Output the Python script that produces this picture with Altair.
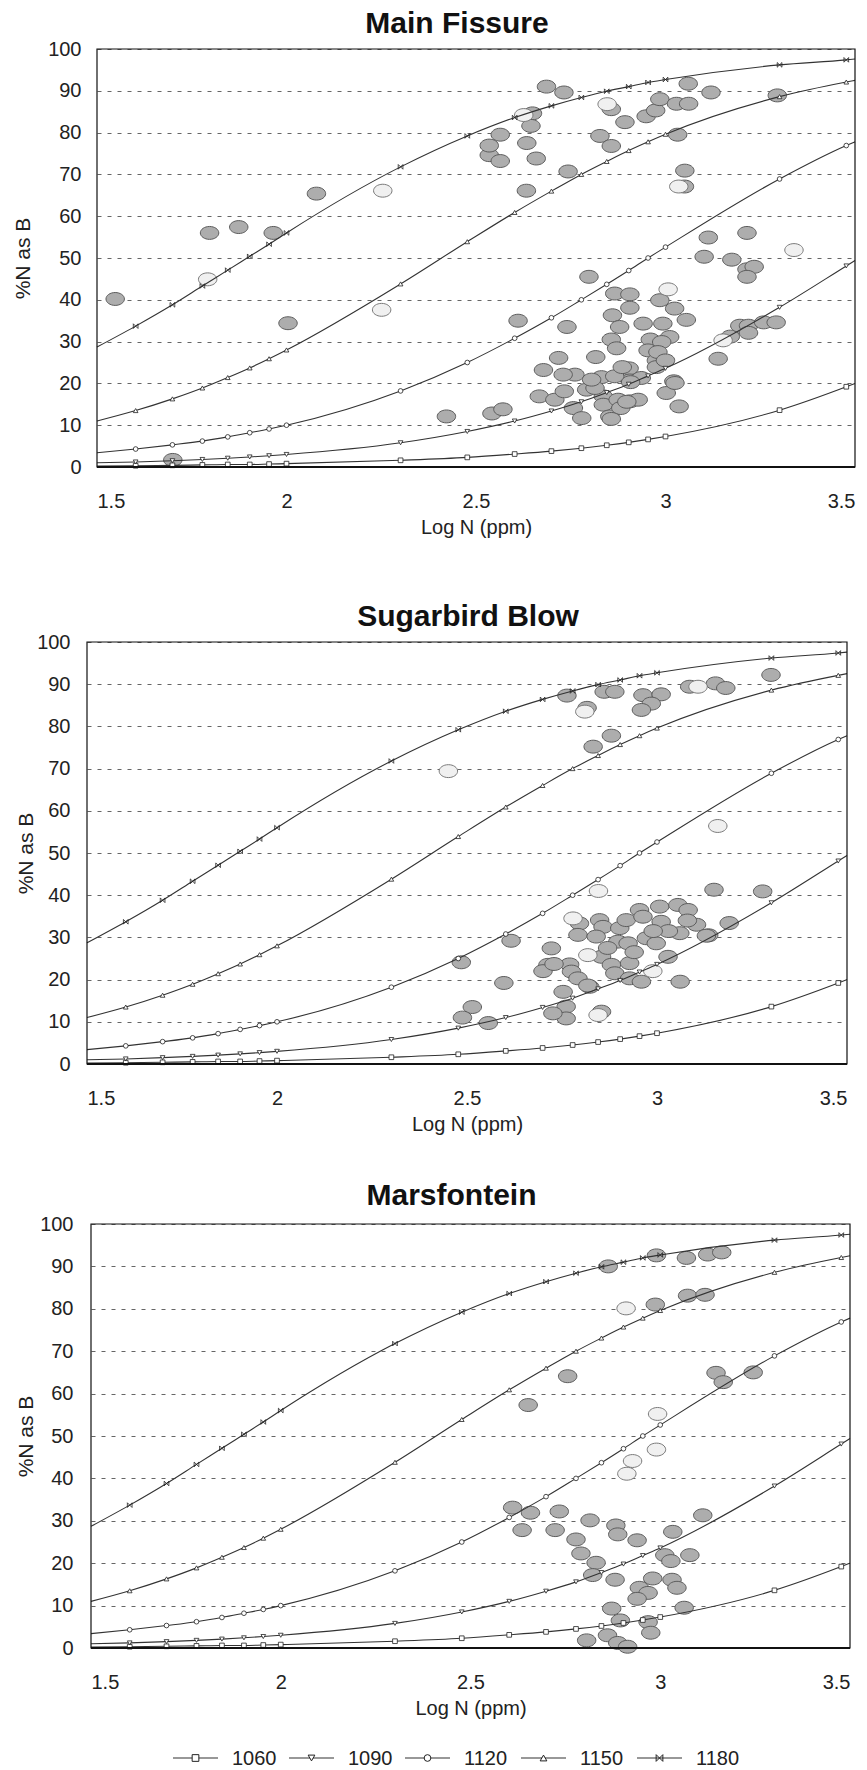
import altair as alt
import pandas as pd

# ---------------- data ----------------
SERIES = ["1060", "1090", "1120", "1150", "1180"]
CURVE_LOGN = [1.5, 1.602, 1.699, 1.778, 1.845, 1.903, 1.954, 2.0, 2.301, 2.477,
              2.602, 2.699, 2.778, 2.845, 2.903, 2.954, 3.0, 3.301, 3.477, 3.5]
CURVE_1060 = [0.2, 0.3, 0.4, 0.5, 0.6, 0.6, 0.7, 0.8, 1.6, 2.3,
              3.1, 3.8, 4.5, 5.2, 5.9, 6.6, 7.3, 13.6, 19.2, 20.0]
CURVE_1090 = [1.0, 1.2, 1.5, 1.8, 2.1, 2.4, 2.7, 3.0, 5.8, 8.5,
              11.0, 13.4, 15.6, 17.8, 19.8, 21.8, 23.6, 38.2, 48.1, 49.4]
CURVE_1120 = [3.4, 4.3, 5.3, 6.2, 7.2, 8.2, 9.1, 10.0, 18.2, 25.0,
              30.8, 35.7, 40.0, 43.7, 47.0, 50.0, 52.6, 68.9, 76.9, 77.8]
CURVE_1150 = [11.0, 13.5, 16.3, 18.9, 21.4, 23.7, 25.9, 28.0, 43.8, 53.9,
              60.9, 66.0, 70.0, 73.1, 75.7, 77.8, 79.6, 88.6, 92.1, 92.5]
CURVE_1180 = [28.7, 33.7, 38.8, 43.3, 47.1, 50.4, 53.3, 56.0, 71.8, 79.2,
              83.6, 86.4, 88.4, 89.9, 91.0, 92.0, 92.7, 96.2, 97.4, 97.6]

X_TICKS = [1.5, 2, 2.5, 3, 3.5]
Y_TICKS = [0, 10, 20, 30, 40, 50, 60, 70, 80, 90, 100]

TITLES = ["Main Fissure", "Sugarbird Blow", "Marsfontein"]

# Main Fissure
MF_GREY_X = [1.548, 1.70, 1.797, 1.874, 1.965, 2.004, 2.079, 2.422,
             2.535, 2.535, 2.564, 2.564, 2.649, 2.645, 2.634, 2.659, 2.633, 2.686, 2.732, 2.743,
             2.827, 2.857, 2.857, 2.893, 2.949, 2.974, 2.985, 3.029, 3.061, 3.060, 3.120, 3.295,
             3.032, 3.051, 3.050,
             3.113, 3.102, 3.215, 3.175, 3.215, 3.234, 3.215, 3.139, 3.171, 3.196, 3.219, 3.219,
             3.259, 3.292,
             2.798, 2.611, 2.740, 2.718, 2.816, 2.678, 2.667, 2.542, 2.571,
             2.866, 2.906, 2.985, 2.906, 3.024, 3.055, 2.860, 2.879, 2.941, 2.993, 3.011, 2.960,
             2.954, 2.976, 2.976, 2.857, 2.871, 2.761, 2.730, 2.831, 2.904, 2.906, 2.866, 2.936,
             3.022, 3.002, 3.036, 2.708, 2.733, 2.757, 2.779, 2.792, 2.836, 2.836, 2.853, 2.875,
             2.906, 2.928, 2.882, 2.814, 2.805, 2.990, 2.980, 3.000, 2.886, 2.908, 2.898, 2.857,
             3.025]
MF_GREY_Y = [40.2, 1.7, 56.0, 57.4, 56.0, 34.4, 65.4, 12.1,
             74.6, 76.9, 79.5, 73.2, 84.6, 81.6, 77.5, 73.8, 66.1, 91.0, 89.6, 70.7,
             79.2, 76.8, 85.6, 82.5, 83.9, 85.3, 88.0, 86.9, 86.9, 91.7, 89.6, 88.9,
             79.5, 70.9, 67.1,
             54.9, 50.3, 56.0, 49.6, 47.3, 47.9, 45.5, 25.9, 31.2, 33.8, 33.8, 32.1,
             34.6, 34.6,
             45.5, 35.0, 33.5, 26.1, 26.3, 23.2, 16.9, 12.8, 13.8,
             41.5, 41.3, 39.9, 38.1, 37.9, 35.2, 36.3, 33.5, 34.3, 34.3, 31.1, 30.5,
             27.9, 25.5, 23.9, 30.5, 28.4, 22.1, 22.1, 21.5, 23.6, 20.7, 21.7, 21.3,
             20.5, 17.7, 14.5, 16.1, 18.1, 14.1, 11.7, 18.5, 16.9, 14.9, 12.1, 16.1,
             15.7, 16.1, 14.1, 18.9, 20.9, 29.9, 27.5, 25.5, 23.9, 20.3, 15.6, 11.5,
             20.1]
MF_LIGHT_X = [1.792, 2.254, 2.251, 2.626, 2.846, 3.035, 3.339, 3.152, 3.007]
MF_LIGHT_Y = [44.9, 66.1, 37.6, 84.2, 86.8, 67.1, 51.9, 30.3, 42.5]

# Sugarbird Blow
SB_GREY_X = [3.150, 3.278, 3.300, 2.597, 2.616, 2.485, 2.514, 2.488, 2.556, 3.061, 3.190, 3.136,
             2.763, 2.816, 2.861, 2.889, 2.963, 3.011, 2.985, 2.959, 3.086, 3.154, 3.181, 2.880,
             2.832,
             2.796, 2.792, 2.849, 2.858, 2.840, 2.902, 2.919, 2.897, 2.924, 2.954, 2.963, 3.007,
             3.011, 3.055, 3.082, 3.060, 3.104, 3.130, 2.972, 2.998, 2.854, 2.880, 2.889, 2.928,
             2.928, 2.959, 3.029, 2.722, 2.713, 2.770, 2.775, 2.792, 2.823, 2.753, 2.761, 2.761,
             2.726, 2.854, 2.700, 2.729, 2.818, 2.940, 3.030, 2.870, 3.080, 2.990]
SB_GREY_Y = [41.3, 40.9, 92.2, 19.2, 29.2, 24.1, 13.5, 11.0, 9.7, 19.5, 33.4, 30.5,
             87.3, 84.4, 88.2, 88.2, 87.4, 87.6, 85.4, 83.9, 89.4, 90.2, 89.1, 77.8,
             75.2,
             33.3, 30.6, 34.1, 32.5, 30.2, 32.2, 34.1, 29.0, 28.6, 36.5, 34.9, 37.3,
             33.7, 37.7, 36.5, 31.0, 33.0, 30.4, 29.8, 28.6, 25.4, 23.5, 21.5, 23.9,
             20.3, 19.5, 25.4, 27.4, 23.5, 23.6, 21.9, 20.3, 18.3, 17.1, 13.6, 10.8,
             12.0, 12.4, 22.0, 23.7, 18.6, 26.5, 31.5, 27.5, 34.0, 31.5]
SB_LIGHT_X = [2.451, 3.160, 2.846, 2.810, 3.108, 2.779, 2.989, 2.818, 2.845]
SB_LIGHT_Y = [69.4, 56.4, 41.0, 83.5, 89.4, 34.5, 22.0, 25.8, 11.6]

# Marsfontein
MA_GREY_X = [2.863, 2.990, 3.069, 3.125, 3.162, 2.987, 3.072, 3.118, 2.756, 2.652, 3.147, 3.166,
             3.245,
             2.611, 2.658, 2.734, 2.636, 2.723, 2.815, 2.883, 2.888, 2.939, 2.778, 2.791, 2.831,
             2.822, 2.881, 3.033, 3.112, 3.012, 3.028, 3.078, 2.980, 3.031, 3.044, 2.945, 2.968,
             2.939, 2.872, 3.063, 2.895, 2.968, 2.975, 2.861, 2.806, 2.888, 2.914]
MA_GREY_Y = [90.0, 92.6, 92.0, 92.8, 93.3, 81.0, 83.1, 83.3, 64.1, 57.3, 64.9, 62.7,
             65.0,
             33.1, 31.9, 32.2, 27.8, 27.8, 30.1, 28.9, 26.8, 25.4, 25.6, 22.3, 20.1,
             17.2, 16.1, 27.4, 31.3, 21.9, 20.5, 21.9, 16.4, 16.1, 14.2, 14.2, 13.0,
             11.6, 9.3, 9.5, 6.5, 6.1, 3.6, 3.0, 1.8, 1.2, 0.3]
MA_LIGHT_X = [2.910, 2.993, 2.990, 2.927, 2.912]
MA_LIGHT_Y = [80.1, 55.2, 46.8, 44.1, 41.1]

# ---------------- styling ----------------
FONT = "Liberation Sans"
ELLIPSE = "M-1,0A1,0.7,0,1,1,1,0A1,0.7,0,1,1,-1,0Z"
XBAR = "M-1,-1L1,1M-1,1L1,-1M-1,-1L-1,1M1,-1L1,1"
SHAPES = ["square", "triangle-down", "circle", "triangle-up", XBAR]

curve_rows = []
for name, ys in zip(SERIES, [CURVE_1060, CURVE_1090, CURVE_1120, CURVE_1150, CURVE_1180]):
    for xv, yv in zip(CURVE_LOGN, ys):
        curve_rows.append({"series": name, "logN": xv, "pctB": yv})
curves_df = pd.DataFrame(curve_rows)
legend_df = pd.DataFrame({"series": SERIES, "idx": list(range(len(SERIES)))})
frame_df = pd.DataFrame({"logN": [X_TICKS[0]], "logN2": [X_TICKS[-1]],
                         "pctB": [Y_TICKS[0]], "pctB2": [Y_TICKS[-1]]})

shape_scale = alt.Scale(domain=SERIES, range=SHAPES)


def panel(title, gx, gy, lx, ly, width, left_gap, height, label_pad, ytitle_pad,
          title_dx, title_offset, with_legend=False):
    xenc = alt.X("logN:Q", title="Log N (ppm)",
                 scale=alt.Scale(domain=[1.5, 3.5], nice=False, zero=False,
                                 range=[left_gap, width]),
                 axis=alt.Axis(values=X_TICKS, format="~g", grid=False, ticks=False,
                               labelPadding=24, titlePadding=6, domain=False,
                               labelFont=FONT, titleFont=FONT, labelFontSize=20,
                               titleFontSize=20, titleFontWeight="normal",
                               labelColor="#222222", titleColor="#222222"))
    yenc = alt.Y("pctB:Q", title="%N as B",
                 scale=alt.Scale(domain=[0, 100], nice=False, zero=False),
                 axis=alt.Axis(values=Y_TICKS, titlePadding=ytitle_pad, grid=True,
                               gridColor="#666666", gridDash=[4, 6], gridWidth=1,
                               ticks=False, domain=False, labelPadding=label_pad,
                               labelFont=FONT, titleFont=FONT, labelFontSize=20,
                               titleFontSize=21, titleFontWeight="normal",
                               labelColor="#222222", titleColor="#222222"))
    grey = alt.Chart(pd.DataFrame({"logN": gx, "pctB": gy})).mark_point(
        shape=ELLIPSE, size=340, filled=True, fill="#adadad", stroke="#5c5c5c",
        strokeWidth=1, opacity=1).encode(x=xenc, y=yenc)
    light = alt.Chart(pd.DataFrame({"logN": lx, "pctB": ly})).mark_point(
        shape=ELLIPSE, size=340, filled=True, fill="#f0f0f0", stroke="#7a7a7a",
        strokeWidth=1, opacity=1).encode(x=xenc, y=yenc)
    lines = alt.Chart(curves_df).mark_line(
        color="#333333", strokeWidth=1.1, interpolate="monotone").encode(
        x=xenc, y=yenc, detail="series:N")
    marks = alt.Chart(curves_df).transform_filter(
        "datum.logN > 1.5 && datum.logN < 3.5").mark_point(
        filled=True, fill="white", stroke="#222222", strokeWidth=0.8, size=22,
        opacity=1).encode(
        x=xenc, y=yenc,
        shape=alt.Shape("series:N", scale=shape_scale, legend=None))
    frame = alt.Chart(frame_df).mark_rect(
        fillOpacity=0, stroke="#111111", strokeWidth=1.2).encode(
        x=xenc, x2="logN2:Q", y=yenc, y2="pctB2:Q")
    bottom = alt.Chart(frame_df).mark_rule(color="#111111", strokeWidth=2).encode(
        x=xenc, x2="logN2:Q", y=yenc)
    layers = [grey, light, lines, marks, frame, bottom]
    if with_legend:
        base = alt.Chart(legend_df).transform_calculate(
            x0="1.5 + (82 + datum.idx * 116) / 379.5",
            x1="1.5 + (127 + datum.idx * 116) / 379.5",
            xm="1.5 + (104.5 + datum.idx * 116) / 379.5",
            xt="1.5 + (141 + datum.idx * 116) / 379.5")
        ly_px = height + 110
        leg_rule = base.mark_rule(color="#333333", strokeWidth=1.2).encode(
            x=alt.X("x0:Q"), x2="x1:Q", y=alt.value(ly_px))
        leg_pt = base.mark_point(filled=True, fill="white", stroke="#222222",
                                 strokeWidth=1, size=45, opacity=1).encode(
            x=alt.X("xm:Q"), y=alt.value(ly_px),
            shape=alt.Shape("series:N", scale=shape_scale, legend=None))
        leg_txt = base.mark_text(align="left", baseline="middle", font=FONT,
                                 fontSize=20, color="#222222").encode(
            x=alt.X("xt:Q"), y=alt.value(ly_px + 1), text="series:N")
        layers += [leg_rule, leg_pt, leg_txt]
    return alt.layer(*layers).properties(
        width=width, height=height,
        title=alt.TitleParams(title, dx=title_dx, font=FONT, fontSize=30,
                              fontWeight="bold", color="#111111",
                              offset=title_offset))


p1 = panel(TITLES[0], MF_GREY_X, MF_GREY_Y, MF_LIGHT_X, MF_LIGHT_Y,
           768, 10, 418, 6, 14.5, -14, 0)
p2 = panel(TITLES[1], SB_GREY_X, SB_GREY_Y, SB_LIGHT_X, SB_LIGHT_Y,
           760, 0, 422, 17, 0, 1, 0)
p3 = panel(TITLES[2], MA_GREY_X, MA_GREY_Y, MA_LIGHT_X, MA_LIGHT_Y,
           763, 4, 424, 14, 3, -17, 3, with_legend=True)

top_pair = alt.vconcat(p1, p2, spacing=63)
chart = alt.vconcat(top_pair, p3, spacing=45).properties(
    padding={"left": 11, "top": 8, "right": 0, "bottom": 0},
    background="white"
).configure_view(
    stroke="transparent"
)

chart.save("out.html", embed_options={"renderer": "svg", "actions": False})
